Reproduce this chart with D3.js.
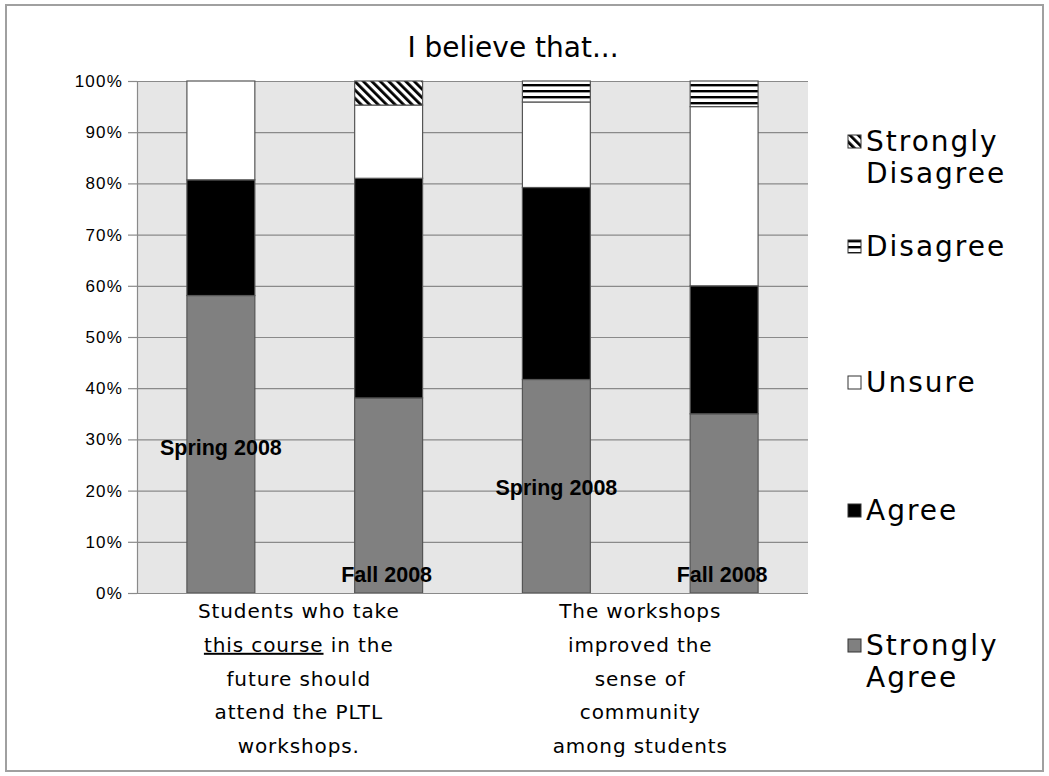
<!DOCTYPE html>
<html>
<head>
<meta charset="utf-8">
<script src="https://cdn.jsdelivr.net/npm/d3@7"></script>
<style>
  html, body { margin: 0; padding: 0; background: #fff; }
  svg { display: block; }
</style>
</head>
<body>
<svg id="chart" width="1049" height="776"></svg>
<script>
// Survey responses, percent of students, one bar per statement and term
const barKeys = ["q1-spring", "q1-fall", "q2-spring", "q2-fall"];
const terms = ["Spring 2008", "Fall 2008", "Spring 2008", "Fall 2008"];
const stronglyAgree    = [58.1, 38.1, 41.7, 35.0];
const agree            = [22.6, 42.9, 37.5, 25.0];
const unsure           = [19.3, 14.3, 16.7, 35.0];
const disagree         = [0.0, 0.0, 4.1, 5.0];
const stronglyDisagree = [0.0, 4.7, 0.0, 0.0];

const responseNames = ["Strongly Agree", "Agree", "Unsure", "Disagree", "Strongly Disagree"];
const statementLines = [
  ["Students who take", "this course in the", "future should", "attend the PLTL", "workshops."],
  ["The workshops", "improved the", "sense of", "community", "among students"]
];
const yTicks = [0, 10, 20, 30, 40, 50, 60, 70, 80, 90, 100];
const title = "I believe that...";

const svg = d3.select("#chart");

// hatch fills
const defs = svg.append("defs");
const hp = defs.append("pattern").attr("id", "pat-disagree")
  .attr("patternUnits", "userSpaceOnUse").attr("width", 8).attr("height", 6);
hp.append("rect").attr("width", 8).attr("height", 6).attr("fill", "#fff");
hp.append("rect").attr("y", 0).attr("width", 8).attr("height", 2.4).attr("fill", "#000");
const dp = defs.append("pattern").attr("id", "pat-sdisagree")
  .attr("patternUnits", "userSpaceOnUse").attr("width", 6).attr("height", 6)
  .attr("patternTransform", "rotate(-45)");
dp.append("rect").attr("width", 6).attr("height", 6).attr("fill", "#fff");
dp.append("rect").attr("width", 2.8).attr("height", 6).attr("fill", "#000");

const fills = {
  "Strongly Agree": "#808080",
  "Agree": "#000000",
  "Unsure": "#ffffff",
  "Disagree": "url(#pat-disagree)",
  "Strongly Disagree": "url(#pat-sdisagree)"
};

// outer frame
svg.append("rect").attr("x", 6).attr("y", 5).attr("width", 1037).attr("height", 766)
  .attr("fill", "none").attr("stroke", "#a0a0a0").attr("stroke-width", 2);

const plot = { left: 137, right: 808, top: 81, bottom: 593 };

const x = d3.scaleBand().domain(barKeys).range([plot.left, plot.right])
  .paddingInner(0.595).paddingOuter(0.2975);
const y = d3.scaleLinear().domain([0, 100]).range([plot.bottom, plot.top]);

// plot background
svg.append("rect").attr("x", plot.left).attr("y", plot.top)
  .attr("width", plot.right - plot.left).attr("height", plot.bottom - plot.top)
  .attr("fill", "#e6e6e6");

// gridlines
svg.append("g").selectAll("line").data(yTicks.filter(t => t > 0)).join("line")
  .attr("x1", plot.left).attr("x2", plot.right)
  .attr("y1", d => y(d) + 0.5).attr("y2", d => y(d) + 0.5)
  .attr("stroke", "#8a8a8a").attr("stroke-width", 1.2);

// y axis
const yAxis = svg.append("g").attr("transform", `translate(${plot.left},0)`)
  .call(d3.axisLeft(y).tickValues(yTicks).tickFormat(d => d + "%").tickSize(9).tickPadding(5));
yAxis.select(".domain").attr("stroke", "#8a8a8a").attr("stroke-width", 1.2);
yAxis.selectAll(".tick line").attr("stroke", "#8a8a8a").attr("stroke-width", 1.2);
yAxis.selectAll(".tick text")
  .attr("font-family", "'Liberation Sans', Arial, sans-serif")
  .attr("font-size", 17).attr("fill", "#000").attr("letter-spacing", 1.2);

// stacked bars
const rows = barKeys.map((k, i) => ({
  key: k,
  "Strongly Agree": stronglyAgree[i],
  "Agree": agree[i],
  "Unsure": unsure[i],
  "Disagree": disagree[i],
  "Strongly Disagree": stronglyDisagree[i]
}));
const stacked = d3.stack().keys(responseNames)(rows);

svg.append("g").selectAll("g").data(stacked).join("g")
  .attr("fill", d => fills[d.key])
  .selectAll("rect").data(d => d.filter(s => s[1] - s[0] > 0)).join("rect")
  .attr("x", d => x(d.data.key))
  .attr("width", x.bandwidth())
  .attr("y", d => y(d[1]))
  .attr("height", d => y(d[0]) - y(d[1]))
  .attr("stroke", "#555")
  .attr("stroke-width", 1.2);

// bottom axis line
svg.append("line").attr("x1", plot.left).attr("x2", plot.right)
  .attr("y1", plot.bottom + 0.5).attr("y2", plot.bottom + 0.5)
  .attr("stroke", "#8a8a8a").attr("stroke-width", 1.2);

// term labels inside the plot
const termLevel = [28.5, 3.8, 20.7, 3.8];
svg.append("g").selectAll("text").data(terms).join("text")
  .attr("x", (d, i) => x(barKeys[i]) + x.bandwidth() / 2 + (i % 2 ? -2 : 0))
  .attr("y", (d, i) => y(termLevel[i]) + 8)
  .attr("text-anchor", "middle")
  .attr("font-family", "'Liberation Sans', Arial, sans-serif")
  .attr("font-weight", "bold")
  .attr("font-size", 21.5)
  .text(d => d);

// statement labels under each pair of bars
const txtFont = "'DejaVu Sans', Verdana, sans-serif";
const statementShift = [-6, 0];
statementLines.forEach((lines, gi) => {
  const cx = (x(barKeys[gi * 2]) + x(barKeys[gi * 2 + 1]) + x.bandwidth()) / 2 + statementShift[gi];
  const t = svg.append("text")
    .attr("text-anchor", "middle")
    .attr("font-family", txtFont)
    .attr("font-size", 20)
    .attr("letter-spacing", 0.9)
    .attr("fill", "#000");
  lines.forEach((line, li) => {
    const ts = t.append("tspan").attr("x", cx).attr("y", 618 + li * 33.8);
    if (line.startsWith("this course")) {
      ts.append("tspan").style("text-decoration", "underline").text("this course");
      ts.append("tspan").text(line.slice("this course".length));
    } else {
      ts.text(line);
    }
  });
});

// title
svg.append("text").attr("x", 513).attr("y", 57)
  .attr("text-anchor", "middle")
  .attr("font-family", txtFont).attr("font-size", 28)
  .text(title);

// legend, top entry first
const legendItems = [
  { name: "Strongly Disagree", lines: ["Strongly", "Disagree"], y: 151 },
  { name: "Disagree", lines: ["Disagree"], y: 256 },
  { name: "Unsure", lines: ["Unsure"], y: 392 },
  { name: "Agree", lines: ["Agree"], y: 520 },
  { name: "Strongly Agree", lines: ["Strongly", "Agree"], y: 655 }
];
const lg = svg.append("g");
legendItems.forEach(it => {
  lg.append("rect").attr("x", 848).attr("y", it.y - 16).attr("width", 13).attr("height", 13)
    .attr("fill", fills[it.name]).attr("stroke", "#333").attr("stroke-width", 1);
  const t = lg.append("text").attr("font-family", txtFont).attr("font-size", 28)
    .attr("letter-spacing", 2);
  it.lines.forEach((l, li) => {
    t.append("tspan").attr("x", 866).attr("y", it.y + li * 32).text(l);
  });
});
</script>
</body>
</html>
